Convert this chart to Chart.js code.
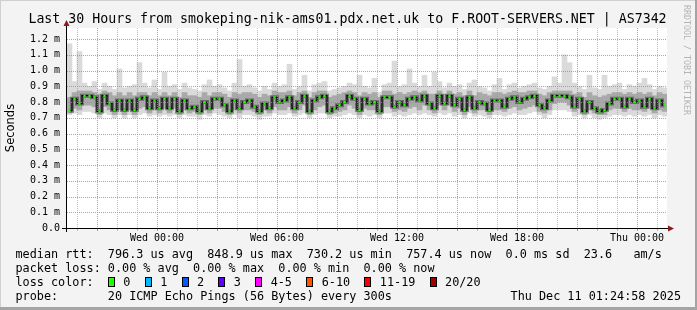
<!DOCTYPE html>
<html>
<head>
<meta charset="utf-8">
<script src="https://cdn.jsdelivr.net/npm/chart.js@4/dist/chart.umd.min.js"></script>
<style>
  html, body { margin: 0; padding: 0; background: #f3f3f3; }
  #wrap { position: relative; width: 697px; height: 310px; overflow: hidden; background: #f3f3f3; }
  #c { position: absolute; left: 0; top: 0; }
  .txt { position: absolute; font-family: 'DejaVu Sans Mono', monospace; color: #000; white-space: pre; }
  #title { left: 0; width: 695px; top: 11px; text-align: center; font-size: 13.25px; line-height: 16px; }
  #legend { left: 15.5px; top: 247px; font-size: 11.8px; line-height: 14px; }
  #date { right: 16px; top: 289px; font-size: 11.8px; line-height: 14px; }
  #rrd { left: 682px; top: 5px; writing-mode: vertical-rl; font-size: 8.3px; line-height: 10px; color: #b4b4b4; }
  .box { display: inline-block; box-sizing: border-box; width: 7px; height: 10px; border: 1px solid #000; vertical-align: -1px; margin-right: 0.2ch; }
  #shadeR { position: absolute; right: 0; top: 0; width: 2px; height: 310px; background: #a4a4a4; }
  #shadeB { position: absolute; left: 0; bottom: 0; width: 697px; height: 3px; background: #a4a4a4; }
  #shadeT { position: absolute; left: 0; top: 0; width: 697px; height: 1px; background: #d0d0d0; }
  #shadeL { position: absolute; left: 0; top: 0; width: 1px; height: 310px; background: #d0d0d0; }
</style>
</head>
<body>
<div id="wrap">
  <canvas id="c" width="697" height="310"></canvas>
  <div id="title" class="txt"></div>
  <div id="legend" class="txt"></div>
  <div id="date" class="txt"></div>
  <div id="rrd" class="txt"></div>
  <div id="shadeT"></div><div id="shadeL"></div><div id="shadeR"></div><div id="shadeB"></div>
</div>
<script>
// ---------------- DATA ----------------
const titleText = 'Last 30 Hours from smokeping-nik-ams01.pdx.net.uk to F.ROOT-SERVERS.NET | AS7342';
const yAxisTitle = 'Seconds';

// Y axis ticks (ms) and labels
const yTickValues = [0.0, 0.1, 0.2, 0.3, 0.4, 0.5, 0.6, 0.7, 0.8, 0.9, 1.0, 1.1, 1.2];
const yTickLabels = ['0.0', '0.1 m', '0.2 m', '0.3 m', '0.4 m', '0.5 m', '0.6 m', '0.7 m', '0.8 m', '0.9 m', '1.0 m', '1.1 m', '1.2 m'];
const yMax = 1.27;

// X axis: hours relative to Wed 00:00
const xStartHour = -4.5;
const xEndHour = 25.5;
const stepHours = 0.25;
const timeTickHours = [0, 6, 12, 18, 24];
const timeTickLabels = ['Wed 00:00', 'Wed 06:00', 'Wed 12:00', 'Wed 18:00', 'Thu 00:00'];

// Median RTT (ms), one value per 15-minute step
const medianRtt = [
0.745,0.82,0.79,0.84,0.84,0.83,0.74,0.84,0.79,0.75,
0.81,0.75,0.81,0.75,0.82,0.83,0.76,0.81,0.76,0.82,
0.76,0.82,0.74,0.81,0.76,0.77,0.74,0.80,0.76,0.82,
0.82,0.78,0.74,0.81,0.76,0.80,0.81,0.77,0.74,0.79,
0.76,0.83,0.80,0.81,0.83,0.76,0.80,0.84,0.74,0.81,
0.83,0.84,0.74,0.76,0.78,0.80,0.84,0.82,0.75,0.82,
0.79,0.80,0.74,0.83,0.83,0.77,0.80,0.78,0.82,0.83,
0.81,0.84,0.79,0.76,0.84,0.79,0.84,0.78,0.82,0.75,
0.83,0.76,0.80,0.79,0.75,0.81,0.81,0.77,0.82,0.83,
0.80,0.82,0.83,0.84,0.78,0.76,0.81,0.84,0.84,0.84,
0.83,0.77,0.82,0.74,0.80,0.76,0.74,0.75,0.79,0.82,
0.82,0.77,0.82,0.80,0.81,0.77,0.82,0.76,0.81,0.78
];
// Smoke: slowest ping per step
const smokeMax = [
1.17,0.93,1.12,0.92,0.90,0.93,0.88,0.92,0.90,0.88,
1.01,0.89,0.90,0.91,1.05,0.92,0.89,0.94,0.88,0.99,
0.90,0.91,0.88,0.92,0.89,0.88,0.87,0.91,0.94,0.90,
0.91,0.89,0.87,0.92,1.07,0.90,0.91,0.89,0.87,0.90,
0.88,0.92,0.90,0.91,1.04,0.88,0.90,0.97,0.87,0.91,
0.92,0.93,0.87,0.88,0.89,0.90,0.92,0.91,0.97,0.90,
0.89,0.95,0.86,0.91,0.92,1.06,0.90,0.91,1.01,0.92,
0.90,0.97,0.90,0.99,0.93,0.89,0.92,0.90,0.91,0.88,
0.92,0.94,0.90,0.89,0.87,0.91,0.95,0.88,0.91,0.92,
0.89,0.90,0.91,0.92,0.89,0.88,0.90,0.96,0.92,1.10,
1.05,0.92,0.90,0.88,0.97,0.89,0.88,0.97,0.90,0.91,
0.92,0.88,0.91,0.90,0.92,0.95,0.91,0.88,0.90,0.89
];
// Smoke: fastest ping per step
const smokeMin = [
0.72,0.73,0.72,0.74,0.74,0.73,0.70,0.73,0.72,0.70,
0.72,0.70,0.72,0.70,0.72,0.73,0.71,0.72,0.71,0.72,
0.71,0.72,0.70,0.72,0.71,0.71,0.69,0.72,0.71,0.73,
0.72,0.71,0.70,0.72,0.70,0.72,0.72,0.71,0.69,0.71,
0.71,0.73,0.72,0.72,0.73,0.71,0.72,0.73,0.70,0.72,
0.73,0.73,0.70,0.71,0.71,0.72,0.73,0.72,0.70,0.72,
0.71,0.72,0.70,0.73,0.73,0.71,0.72,0.71,0.72,0.73,
0.72,0.73,0.72,0.71,0.73,0.72,0.73,0.71,0.72,0.70,
0.73,0.71,0.72,0.71,0.70,0.72,0.72,0.71,0.72,0.73,
0.72,0.72,0.73,0.74,0.72,0.70,0.72,0.75,0.75,0.75,
0.74,0.71,0.72,0.70,0.72,0.70,0.69,0.70,0.71,0.72,
0.72,0.71,0.72,0.71,0.72,0.71,0.72,0.70,0.72,0.71
];
// Smoke: upper edge of the dense ping band
const smokeHi = [
0.83,0.86,0.87,0.87,0.87,0.86,0.85,0.87,0.86,0.84,
0.86,0.84,0.86,0.84,0.86,0.86,0.84,0.86,0.84,0.86,
0.84,0.86,0.83,0.86,0.84,0.84,0.83,0.86,0.84,0.86,
0.86,0.85,0.83,0.86,0.85,0.86,0.86,0.85,0.83,0.85,
0.84,0.87,0.86,0.86,0.87,0.84,0.86,0.87,0.83,0.86,
0.87,0.87,0.83,0.84,0.85,0.86,0.87,0.86,0.84,0.86,
0.85,0.86,0.83,0.87,0.87,0.85,0.86,0.85,0.86,0.87,
0.86,0.87,0.85,0.85,0.87,0.85,0.87,0.85,0.86,0.84,
0.87,0.84,0.86,0.85,0.84,0.86,0.86,0.85,0.86,0.87,
0.86,0.86,0.87,0.87,0.85,0.84,0.86,0.87,0.87,0.87,
0.87,0.85,0.86,0.83,0.86,0.84,0.83,0.84,0.85,0.86,
0.86,0.85,0.86,0.85,0.86,0.85,0.86,0.84,0.86,0.85
];
// Smoke: lower edge of the dense ping band
const smokeLo = [
0.73,0.76,0.75,0.78,0.78,0.77,0.72,0.77,0.75,0.72,
0.75,0.72,0.75,0.72,0.76,0.77,0.73,0.75,0.73,0.76,
0.73,0.76,0.72,0.75,0.73,0.74,0.72,0.75,0.73,0.76,
0.76,0.74,0.72,0.75,0.73,0.75,0.75,0.74,0.72,0.75,
0.73,0.77,0.75,0.75,0.77,0.73,0.75,0.78,0.72,0.75,
0.77,0.78,0.72,0.73,0.74,0.75,0.78,0.76,0.72,0.76,
0.75,0.75,0.72,0.77,0.77,0.74,0.75,0.74,0.76,0.77,
0.75,0.78,0.75,0.73,0.78,0.75,0.78,0.74,0.76,0.72,
0.77,0.73,0.75,0.75,0.72,0.75,0.75,0.74,0.76,0.77,
0.75,0.76,0.77,0.78,0.74,0.73,0.75,0.79,0.80,0.80,
0.78,0.74,0.76,0.72,0.75,0.73,0.72,0.72,0.75,0.76,
0.76,0.74,0.76,0.75,0.75,0.74,0.76,0.73,0.75,0.74
];

// Legend texts
const statLine = 'median rtt:  796.3 us avg  848.9 us max  730.2 us min  757.4 us now  0.0 ms sd  23.6   am/s';
const lossLine = 'packet loss: 0.00 % avg  0.00 % max  0.00 % min  0.00 % now';
const lossColorLabels = ['0', '1', '2', '3', '4-5', '6-10', '11-19', '20/20'];
const lossColors = ['#26ff00', '#00b8ff', '#0059ff', '#5e00ff', '#ff00ff', '#ff5500', '#ff0000', '#a10000'];
const probeLine = 'probe:       20 ICMP Echo Pings (56 Bytes) every 300s';
const dateText = 'Thu Dec 11 01:24:58 2025';
const creditText = 'RRDTOOL / TOBI OETIKER';

// ---------------- TEXT ----------------
document.getElementById('title').textContent = titleText;
document.getElementById('date').textContent = dateText;
document.getElementById('rrd').textContent = creditText;
(function () {
  const leg = document.getElementById('legend');
  const l1 = document.createElement('div'); l1.textContent = statLine; leg.appendChild(l1);
  const l2 = document.createElement('div'); l2.textContent = lossLine; leg.appendChild(l2);
  const l3 = document.createElement('div');
  l3.appendChild(document.createTextNode('loss color:  '));
  lossColorLabels.forEach((lab, i) => {
    const b = document.createElement('span');
    b.className = 'box'; b.style.background = lossColors[i];
    l3.appendChild(b);
    l3.appendChild(document.createTextNode(' ' + lab + (i < lossColorLabels.length - 1 ? '  ' : '')));
  });
  leg.appendChild(l3);
  const l4 = document.createElement('div'); l4.textContent = probeLine; leg.appendChild(l4);
})();

// ---------------- CHART ----------------
const times = medianRtt.map((_, i) => xStartHour + stepHours * (i + 0.5));
const gridHours = [];
for (let h = Math.ceil(xStartHour); h <= Math.floor(xEndHour); h++) gridHours.push(h);

const majorGrid = 'rgba(230,110,110,0.8)';
const minorGrid = 'rgba(140,140,140,0.55)';

const framePlugin = {
  id: 'framePlugin',
  beforeDraw(chart) {
    const { ctx, chartArea: a } = chart;
    ctx.save();
    ctx.fillStyle = '#ffffff';
    ctx.fillRect(a.left, a.top, a.right - a.left, a.bottom - a.top);
    ctx.restore();
  },
  afterDatasetsDraw(chart) {
    const { ctx, chartArea: a, scales: { x, y } } = chart;
    ctx.save();
    ctx.lineWidth = 1;
    // dotted grid, drawn through the library's scales
    ctx.setLineDash([1, 1]);
    gridHours.forEach((h) => {
      const px = Math.round(x.getPixelForValue(h)) + 0.5;
      ctx.strokeStyle = (h % 3 === 0) ? majorGrid : minorGrid;
      ctx.beginPath(); ctx.moveTo(px, a.top); ctx.lineTo(px, a.bottom); ctx.stroke();
    });
    yTickValues.forEach((v) => {
      if (v === 0) return;
      const py = Math.round(y.getPixelForValue(v)) + 0.5;
      ctx.strokeStyle = majorGrid;
      ctx.beginPath(); ctx.moveTo(a.left, py); ctx.lineTo(a.right, py); ctx.stroke();
    });
    ctx.setLineDash([]);
    // small hourly ticks below the time axis
    gridHours.forEach((h) => {
      const px = Math.round(x.getPixelForValue(h)) + 0.5;
      ctx.strokeStyle = (h % 3 === 0) ? majorGrid : minorGrid;
      ctx.beginPath(); ctx.moveTo(px, a.bottom); ctx.lineTo(px, a.bottom + 3); ctx.stroke();
    });
    // axes
    ctx.strokeStyle = '#000';
    ctx.beginPath();
    ctx.moveTo(a.left - 5, a.bottom + 0.5);
    ctx.lineTo(a.right + 2, a.bottom + 0.5);
    ctx.moveTo(a.left - 0.5, a.bottom + 4);
    ctx.lineTo(a.left - 0.5, a.top - 3);
    ctx.stroke();
    ctx.fillStyle = '#8b1a1a';
    ctx.beginPath();
    ctx.moveTo(a.left - 0.5, a.top - 8);
    ctx.lineTo(a.left - 3.5, a.top - 2);
    ctx.lineTo(a.left + 2.5, a.top - 2);
    ctx.closePath();
    ctx.fill();
    ctx.beginPath();
    ctx.moveTo(a.right + 7, a.bottom + 0.5);
    ctx.lineTo(a.right + 1, a.bottom - 2.5);
    ctx.lineTo(a.right + 1, a.bottom + 3.5);
    ctx.closePath();
    ctx.fill();
    ctx.restore();
  }
};

new Chart(document.getElementById('c'), {
  type: 'line',
  data: {
    datasets: [
      {
        type: 'bar', label: 'smoke range',
        data: times.map((t, i) => ({ x: t, y: [smokeMin[i], smokeMax[i]] })),
        backgroundColor: '#dadada', borderWidth: 0, grouped: false,
        barPercentage: 1, categoryPercentage: 1, order: 6
      },
      {
        type: 'bar', label: 'smoke dense',
        data: times.map((t, i) => ({ x: t, y: [smokeLo[i], smokeHi[i]] })),
        backgroundColor: '#a9a9a9', borderWidth: 0, grouped: false,
        barPercentage: 1, categoryPercentage: 1, order: 5
      },
      {
        label: 'smoke core',
        data: times.map((t, i) => ({ x: t, y: medianRtt[i] })),
        borderColor: 'rgba(45,45,45,0.5)', borderWidth: 4, stepped: 'middle',
        pointRadius: 0, fill: false, order: 4
      },
      {
        label: 'median rtt',
        data: times.map((t, i) => ({ x: t, y: medianRtt[i] })),
        borderColor: '#000', borderWidth: 1.2, stepped: 'middle',
        pointRadius: 1.6, pointStyle: 'rect', pointBackgroundColor: lossColors[0],
        pointBorderWidth: 0, fill: false, order: 2
      }
    ]
  },
  options: {
    responsive: false,
    animation: false,
    events: [],
    layout: { padding: { left: 0, right: 30, top: 28, bottom: 0 } },
    plugins: { legend: { display: false }, tooltip: { enabled: false }, title: { display: false } },
    scales: {
      x: {
        type: 'linear', min: xStartHour, max: xEndHour, offset: false,
        afterBuildTicks: (s) => { s.ticks = gridHours.map(v => ({ value: v })); },
        afterFit: (s) => { s.height = 82; },
        grid: { display: false, offset: false, drawTicks: false },
        border: { display: false },
        ticks: {
          autoSkip: false, maxRotation: 0, padding: 4, color: '#000',
          font: { family: 'DejaVu Sans Mono', size: 10 },
          callback: (v) => { const k = timeTickHours.indexOf(v); return k >= 0 ? timeTickLabels[k] : ''; }
        }
      },
      y: {
        type: 'linear', min: 0, max: yMax,
        afterBuildTicks: (s) => { s.ticks = yTickValues.map(v => ({ value: v })); },
        afterFit: (s) => { s.width = 67; },
        grid: { display: false, drawTicks: false },
        border: { display: false },
        ticks: {
          padding: 7, color: '#000',
          font: { family: 'DejaVu Sans Mono', size: 10 },
          callback: (v, i) => yTickLabels[i]
        },
        title: {
          display: true, text: yAxisTitle, color: '#000',
          font: { family: 'DejaVu Sans', size: 11.5 }, padding: { top: 4, bottom: 0 }
        }
      }
    }
  },
  plugins: [framePlugin]
});
</script>
</body>
</html>
